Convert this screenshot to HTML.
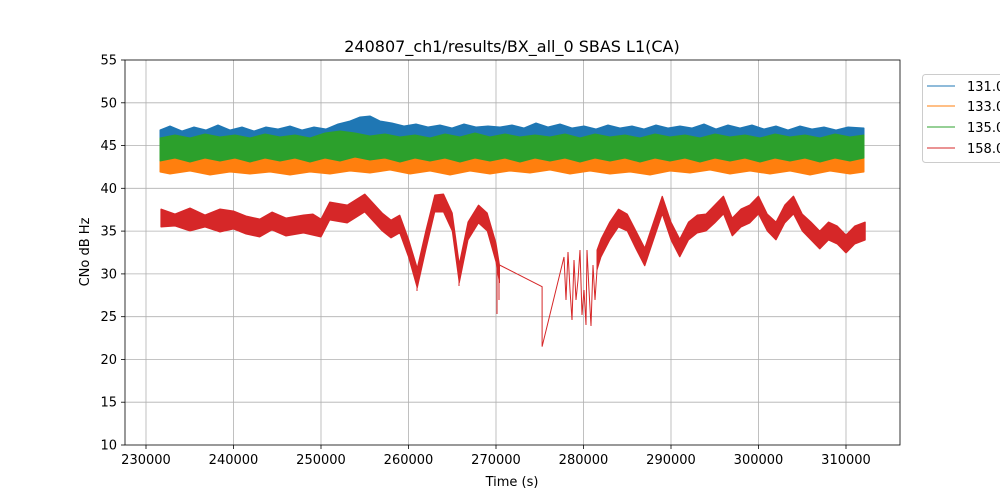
<!DOCTYPE html>
<html><head><meta charset="utf-8"><style>
body{margin:0;background:#fff;width:1000px;height:500px;overflow:hidden}
svg{display:block}
text{font-family:"DejaVu Sans","Liberation Sans",sans-serif;fill:#000}
</style></head><body>
<svg width="1000" height="500" xmlns="http://www.w3.org/2000/svg">
<g stroke="#b0b0b0" stroke-width="0.8">
<line x1="146" y1="60" x2="146" y2="445"/><line x1="233.5" y1="60" x2="233.5" y2="445"/><line x1="321" y1="60" x2="321" y2="445"/><line x1="408.5" y1="60" x2="408.5" y2="445"/><line x1="496" y1="60" x2="496" y2="445"/><line x1="583.5" y1="60" x2="583.5" y2="445"/><line x1="671" y1="60" x2="671" y2="445"/><line x1="758.5" y1="60" x2="758.5" y2="445"/><line x1="846" y1="60" x2="846" y2="445"/>
<line x1="125" y1="402.2" x2="900" y2="402.2"/><line x1="125" y1="359.4" x2="900" y2="359.4"/><line x1="125" y1="316.7" x2="900" y2="316.7"/><line x1="125" y1="273.9" x2="900" y2="273.9"/><line x1="125" y1="231.1" x2="900" y2="231.1"/><line x1="125" y1="188.3" x2="900" y2="188.3"/><line x1="125" y1="145.6" x2="900" y2="145.6"/><line x1="125" y1="102.8" x2="900" y2="102.8"/>
</g>
<g stroke-width="1" stroke-linejoin="bevel">
<polygon fill="#1f77b4" stroke="#1f77b4" points="160,130 170,126 182,131 194,127 206,130 218,125 230,130 242,127 254,131 266,127 278,129 290,126 302,130 314,127 326,129 338,124 350,121 360,117 370,116 380,121 392,123 404,126 416,124 428,127 440,125 452,128 464,124 476,127 488,126 500,127 512,125 524,128 536,123 548,127 560,124 572,128 584,126 596,129 608,125 620,128 632,126 644,129 656,125 668,128 680,126 692,128 704,124 716,129 728,125 740,128 752,125 764,129 776,126 788,130 800,126 812,129 824,127 836,130 848,127 864,128 864,146 840,144 820,146 800,143 780,146 760,144 740,146 720,143 700,146 680,144 660,146 640,143 620,146 600,144 580,146 560,144 540,146 520,144 500,146 480,143 460,146 440,144 420,146 400,143 380,141 360,140 340,146 320,144 300,146 280,144 260,147 240,144 220,146 200,144 180,147 160,146"/>
<polygon fill="#ff7f0e" stroke="#ff7f0e" points="160,152 300,151 500,151 864,152 864,172 850,174 830,171 810,175 790,171 770,174 750,171 730,174 710,170 690,173 670,171 650,175 630,172 610,174 590,171 570,174 550,170 530,173 510,171 490,174 470,171 450,175 430,171 410,174 390,170 370,173 350,171 330,174 310,172 290,175 270,172 250,174 230,172 210,175 190,171 170,174 160,172"/>
<polygon fill="#2ca02c" stroke="#2ca02c" points="160,138 175,135 190,138 205,134 220,137 235,135 250,138 265,134 280,137 295,135 310,138 325,133 340,131 355,133 370,136 385,134 400,137 415,135 430,138 445,134 460,137 475,133 490,137 505,134 520,137 535,135 550,137 565,134 580,138 595,134 610,137 625,135 640,138 655,134 670,137 685,135 700,138 715,134 730,137 745,135 760,138 775,134 790,137 805,135 820,138 835,134 850,137 864,135 864,158 850,161 835,158 820,162 805,158 790,161 775,158 760,162 745,158 730,161 715,158 700,162 685,158 670,161 655,158 640,162 625,158 610,161 595,158 580,162 565,158 550,161 535,158 520,162 505,158 490,161 475,158 460,162 445,158 430,161 415,158 400,162 385,158 370,160 355,157 340,161 325,158 310,162 295,158 280,161 265,158 250,162 235,158 220,161 205,158 190,162 175,158 160,161"/>
<polygon fill="#d62728" stroke="#d62728" points="160.9,209 175,214 190,208 205,215 220,209 233.5,211 246,216 259.75,219 272,212 286,218 303.5,215 313,214 321,219 329.75,202 347.25,205 364.75,194 382.25,213 391,220 399.75,215 408.5,239 417.25,268 426,230 434.75,195 443.5,194 452.25,213 459.25,264 468,222 478.5,205 487.25,213 496,243 499.5,265 499.5,283 496,262 487.25,231 478.5,223 468,240 459.25,283 452.25,231 443.5,212 434.75,212 426,249 417.25,288 408.5,257 399.75,233 391,238 382.25,231 364.75,212 347.25,223 329.75,220 321,237 303.5,233 286,236 272,230 259.75,237 246,234 233.5,229 220,232 205,227 190,231 175,226 160.9,227"/>
<polygon fill="#d62728" stroke="#d62728" points="597,250 601,239 609.75,222 618.5,209 627.25,214 636,231 644.75,248 653.5,222 662.25,196 671,222 679.75,239 688.5,222 697.25,215 706,214 714.75,205 723.5,196 732.25,218 741,209 749.75,205 758.5,196 767.25,214 776,222 784.75,205 793.5,196 802.25,214 811,222 819.75,231 828.5,222 837.25,226 846,235 854.75,226 865.25,222 865.25,240 854.75,244 846,253 837.25,244 828.5,240 819.75,249 811,240 802.25,231 793.5,214 784.75,223 776,240 767.25,231 758.5,214 749.75,223 741,227 732.25,236 723.5,214 714.75,223 706,231 697.25,233 688.5,240 679.75,257 671,240 662.25,214 653.5,240 644.75,266 636,249 627.25,231 618.5,227 609.75,240 601,257 597,270"/>
</g>
<g fill="none" stroke="#d62728" stroke-width="1">
<polyline points="499.5,265 542.1,286.7 542.1,346.6 564,257 566,300 568,252 570,290 572,320 574,260 576,300 578,280 580,250 582,315 584,290 586,325 587,250 589,290 591,326 593,265 595,300 597,270"/>
<line x1="417" y1="270" x2="417" y2="291"/><line x1="459" y1="270" x2="459" y2="286"/><line x1="497" y1="260" x2="497" y2="314"/><line x1="499" y1="262" x2="499" y2="300"/>
</g>
<rect x="125" y="60" width="775" height="385" fill="none" stroke="#000" stroke-width="0.8"/>
<g stroke="#000" stroke-width="0.8">
<line x1="146" y1="445" x2="146" y2="449"/><line x1="233.5" y1="445" x2="233.5" y2="449"/><line x1="321" y1="445" x2="321" y2="449"/><line x1="408.5" y1="445" x2="408.5" y2="449"/><line x1="496" y1="445" x2="496" y2="449"/><line x1="583.5" y1="445" x2="583.5" y2="449"/><line x1="671" y1="445" x2="671" y2="449"/><line x1="758.5" y1="445" x2="758.5" y2="449"/><line x1="846" y1="445" x2="846" y2="449"/>
<line x1="121" y1="445" x2="125" y2="445"/><line x1="121" y1="402.2" x2="125" y2="402.2"/><line x1="121" y1="359.4" x2="125" y2="359.4"/><line x1="121" y1="316.7" x2="125" y2="316.7"/><line x1="121" y1="273.9" x2="125" y2="273.9"/><line x1="121" y1="231.1" x2="125" y2="231.1"/><line x1="121" y1="188.3" x2="125" y2="188.3"/><line x1="121" y1="145.6" x2="125" y2="145.6"/><line x1="121" y1="102.8" x2="125" y2="102.8"/><line x1="121" y1="60" x2="125" y2="60"/>
</g>
<g font-size="13" text-anchor="middle">
<text x="146" y="464">230000</text><text x="233.5" y="464">240000</text><text x="321" y="464">250000</text><text x="408.5" y="464">260000</text><text x="496" y="464">270000</text><text x="583.5" y="464">280000</text><text x="671" y="464">290000</text><text x="758.5" y="464">300000</text><text x="846" y="464">310000</text>
</g>
<g font-size="13" text-anchor="end">
<text x="117" y="449.5">10</text><text x="117" y="406.7">15</text><text x="117" y="363.9">20</text><text x="117" y="321.2">25</text><text x="117" y="278.4">30</text><text x="117" y="235.6">35</text><text x="117" y="192.8">40</text><text x="117" y="150.1">45</text><text x="117" y="107.3">50</text><text x="117" y="64.5">55</text>
</g>
<text x="512" y="52" font-size="16" text-anchor="middle">240807_ch1/results/BX_all_0 SBAS L1(CA)</text>
<text x="512" y="486" font-size="13" text-anchor="middle">Time (s)</text>
<text transform="translate(89,252) rotate(-90)" font-size="13" text-anchor="middle">CNo dB Hz</text>
<rect x="922.5" y="74.5" width="90" height="88" rx="3" fill="#fff" fill-opacity="0.8" stroke="#ccc"/>
<g stroke-width="1">
<line x1="927" y1="86" x2="955" y2="86" stroke="#1f77b4"/>
<line x1="927" y1="106" x2="955" y2="106" stroke="#ff7f0e"/>
<line x1="927" y1="127" x2="955" y2="127" stroke="#2ca02c"/>
<line x1="927" y1="148" x2="955" y2="148" stroke="#d62728"/>
</g>
<g font-size="13"><text x="967" y="91">131.0</text><text x="967" y="111">133.0</text><text x="967" y="132">135.0</text><text x="967" y="153">158.0</text></g>
</svg>
</body></html>
